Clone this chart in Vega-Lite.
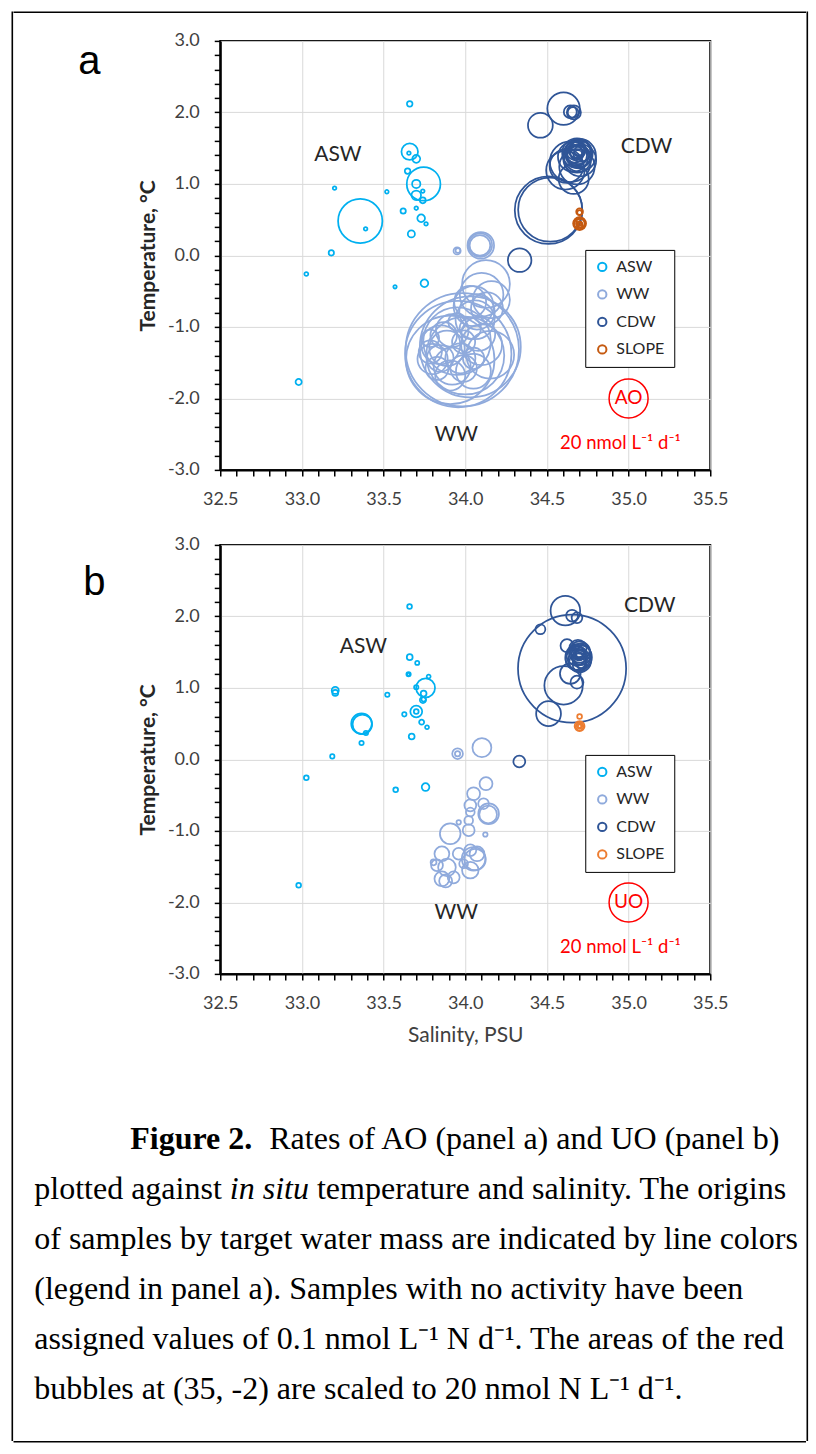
{
 "$schema": "https://vega.github.io/schema/vega-lite/v6.json",
 "background": "white",
 "padding": {"left": 11.25, "top": 11.25, "right": 2, "bottom": 2},
 "spacing": 0,
 "resolve": {"scale": {"color": "independent", "size": "independent"}, "legend": {"color": "independent", "size": "independent"}},
 "datasets": {
  "pa": [
   {"mass":"ASW","sal":33.66,"temp":2.12,"rate":0.4},
   {"mass":"ASW","sal":33.66,"temp":1.45,"rate":3.6},
   {"mass":"ASW","sal":33.655,"temp":1.43,"rate":0.17},
   {"mass":"ASW","sal":33.70,"temp":1.35,"rate":0.8},
   {"mass":"ASW","sal":33.647,"temp":1.18,"rate":0.4},
   {"mass":"ASW","sal":33.745,"temp":1.00,"rate":14.9},
   {"mass":"ASW","sal":33.70,"temp":1.00,"rate":0.9},
   {"mass":"ASW","sal":33.70,"temp":0.84,"rate":1.2},
   {"mass":"ASW","sal":33.74,"temp":0.90,"rate":0.17},
   {"mass":"ASW","sal":33.74,"temp":0.77,"rate":0.45},
   {"mass":"ASW","sal":33.70,"temp":0.66,"rate":0.17},
   {"mass":"ASW","sal":33.62,"temp":0.62,"rate":0.37},
   {"mass":"ASW","sal":33.73,"temp":0.52,"rate":0.77},
   {"mass":"ASW","sal":33.76,"temp":0.44,"rate":0.17},
   {"mass":"ASW","sal":33.67,"temp":0.30,"rate":0.66},
   {"mass":"ASW","sal":33.357,"temp":0.48,"rate":25.8},
   {"mass":"ASW","sal":33.39,"temp":0.37,"rate":0.17},
   {"mass":"ASW","sal":33.20,"temp":0.94,"rate":0.17},
   {"mass":"ASW","sal":33.52,"temp":0.89,"rate":0.17},
   {"mass":"ASW","sal":33.18,"temp":0.035,"rate":0.37},
   {"mass":"ASW","sal":33.027,"temp":-0.26,"rate":0.2},
   {"mass":"ASW","sal":33.75,"temp":-0.39,"rate":0.77},
   {"mass":"ASW","sal":33.57,"temp":-0.44,"rate":0.15},
   {"mass":"ASW","sal":32.98,"temp":-1.77,"rate":0.5},
   {"mass":"WW","sal":33.95,"temp":0.063,"rate":0.66},
   {"mass":"WW","sal":33.955,"temp":0.07,"rate":0.3},
   {"mass":"WW","sal":34.09,"temp":0.14,"rate":5.6},
   {"mass":"WW","sal":34.092,"temp":0.145,"rate":7.3},
   {"mass":"WW","sal":34.095,"temp":0.14,"rate":9.3},
   {"mass":"WW","sal":34.127,"temp":-0.40,"rate":30},
   {"mass":"WW","sal":34.10,"temp":-0.55,"rate":25},
   {"mass":"WW","sal":34.16,"temp":-0.62,"rate":18},
   {"mass":"WW","sal":34.051,"temp":-0.71,"rate":21},
   {"mass":"WW","sal":34.072,"temp":-0.79,"rate":16.5},
   {"mass":"WW","sal":34.133,"temp":-0.74,"rate":13.4},
   {"mass":"WW","sal":34.03,"temp":-0.65,"rate":13.4},
   {"mass":"WW","sal":34.06,"temp":-0.90,"rate":20},
   {"mass":"WW","sal":33.95,"temp":-0.93,"rate":4.1},
   {"mass":"WW","sal":34.031,"temp":-1.02,"rate":6},
   {"mass":"WW","sal":33.92,"temp":-1.05,"rate":14},
   {"mass":"WW","sal":34.08,"temp":-1.10,"rate":15},
   {"mass":"WW","sal":33.868,"temp":-1.12,"rate":9.3},
   {"mass":"WW","sal":33.786,"temp":-1.16,"rate":4.1},
   {"mass":"WW","sal":33.99,"temp":-1.21,"rate":7},
   {"mass":"WW","sal":33.85,"temp":-1.25,"rate":20},
   {"mass":"WW","sal":34.10,"temp":-1.25,"rate":22},
   {"mass":"WW","sal":33.888,"temp":-1.30,"rate":16.5},
   {"mass":"WW","sal":33.786,"temp":-1.35,"rate":7},
   {"mass":"WW","sal":34.153,"temp":-1.39,"rate":30},
   {"mass":"WW","sal":33.847,"temp":-1.44,"rate":9.3},
   {"mass":"WW","sal":33.80,"temp":-1.45,"rate":12},
   {"mass":"WW","sal":33.97,"temp":-1.44,"rate":11.9},
   {"mass":"WW","sal":34.051,"temp":-1.44,"rate":6},
   {"mass":"WW","sal":33.92,"temp":-1.55,"rate":18},
   {"mass":"WW","sal":33.99,"temp":-1.58,"rate":9.3},
   {"mass":"WW","sal":33.827,"temp":-1.58,"rate":7},
   {"mass":"WW","sal":34.05,"temp":-1.62,"rate":16},
   {"mass":"WW","sal":33.908,"temp":-1.68,"rate":11.9},
   {"mass":"WW","sal":33.95,"temp":-1.20,"rate":60},
   {"mass":"WW","sal":34.00,"temp":-1.40,"rate":80},
   {"mass":"WW","sal":33.982,"temp":-1.32,"rate":169},
   {"mass":"WW","sal":33.957,"temp":-1.38,"rate":149},
   {"mass":"WW","sal":34.031,"temp":-1.28,"rate":134},
   {"mass":"WW","sal":33.908,"temp":-1.46,"rate":103},
   {"mass":"CDW","sal":34.602,"temp":2.053,"rate":13.9},
   {"mass":"CDW","sal":34.46,"temp":1.82,"rate":8.1},
   {"mass":"CDW","sal":34.643,"temp":2.007,"rate":2.2},
   {"mass":"CDW","sal":34.66,"temp":2.0,"rate":1.5},
   {"mass":"CDW","sal":34.665,"temp":2.0,"rate":2.6},
   {"mass":"CDW","sal":34.684,"temp":1.43,"rate":11.5},
   {"mass":"CDW","sal":34.69,"temp":1.45,"rate":8},
   {"mass":"CDW","sal":34.68,"temp":1.40,"rate":6},
   {"mass":"CDW","sal":34.70,"temp":1.42,"rate":9},
   {"mass":"CDW","sal":34.675,"temp":1.47,"rate":5},
   {"mass":"CDW","sal":34.695,"temp":1.38,"rate":7},
   {"mass":"CDW","sal":34.67,"temp":1.42,"rate":4},
   {"mass":"CDW","sal":34.705,"temp":1.46,"rate":6},
   {"mass":"CDW","sal":34.685,"temp":1.35,"rate":10},
   {"mass":"CDW","sal":34.69,"temp":1.50,"rate":3},
   {"mass":"CDW","sal":34.68,"temp":1.44,"rate":2},
   {"mass":"CDW","sal":34.70,"temp":1.40,"rate":14},
   {"mass":"CDW","sal":34.66,"temp":1.38,"rate":12},
   {"mass":"CDW","sal":34.69,"temp":1.41,"rate":1},
   {"mass":"CDW","sal":34.70,"temp":1.45,"rate":1.5},
   {"mass":"CDW","sal":34.68,"temp":1.48,"rate":3.5},
   {"mass":"CDW","sal":34.643,"temp":1.31,"rate":21.9},
   {"mass":"CDW","sal":34.613,"temp":1.19,"rate":19.4},
   {"mass":"CDW","sal":34.684,"temp":1.24,"rate":16.5},
   {"mass":"CDW","sal":34.704,"temp":1.33,"rate":13.4},
   {"mass":"CDW","sal":34.664,"temp":1.07,"rate":11.9},
   {"mass":"CDW","sal":34.62,"temp":1.25,"rate":15},
   {"mass":"CDW","sal":34.51,"temp":0.632,"rate":60},
   {"mass":"CDW","sal":34.52,"temp":0.64,"rate":54},
   {"mass":"CDW","sal":34.333,"temp":-0.067,"rate":7.3},
   {"mass":"SLOPE","sal":34.70,"temp":0.445,"rate":2.2},
   {"mass":"SLOPE","sal":34.70,"temp":0.44,"rate":1.5},
   {"mass":"SLOPE","sal":34.705,"temp":0.45,"rate":1.0},
   {"mass":"SLOPE","sal":34.70,"temp":0.43,"rate":0.5},
   {"mass":"SLOPE","sal":34.70,"temp":0.445,"rate":0.25},
   {"mass":"SLOPE","sal":34.702,"temp":0.44,"rate":0.1},
   {"mass":"SLOPE","sal":34.70,"temp":0.45,"rate":1.8},
   {"mass":"SLOPE","sal":34.70,"temp":0.61,"rate":0.6},
   {"mass":"SLOPE","sal":34.70,"temp":0.60,"rate":0.3}
  ],
  "pb": [
   {"mass":"ASW","sal":33.659,"temp":2.14,"rate":0.3},
   {"mass":"ASW","sal":33.66,"temp":1.43,"rate":0.45},
   {"mass":"ASW","sal":33.706,"temp":1.35,"rate":0.22},
   {"mass":"ASW","sal":33.653,"temp":1.19,"rate":0.25},
   {"mass":"ASW","sal":33.653,"temp":1.19,"rate":0.1},
   {"mass":"ASW","sal":33.757,"temp":1.00,"rate":4.7},
   {"mass":"ASW","sal":33.70,"temp":1.01,"rate":0.25},
   {"mass":"ASW","sal":33.776,"temp":1.16,"rate":0.2},
   {"mass":"ASW","sal":33.745,"temp":0.92,"rate":0.45},
   {"mass":"ASW","sal":33.741,"temp":0.83,"rate":0.5},
   {"mass":"ASW","sal":33.745,"temp":0.84,"rate":0.25},
   {"mass":"ASW","sal":33.70,"temp":0.67,"rate":1.85},
   {"mass":"ASW","sal":33.70,"temp":0.67,"rate":0.3},
   {"mass":"ASW","sal":33.627,"temp":0.63,"rate":0.25},
   {"mass":"ASW","sal":33.733,"temp":0.52,"rate":0.33},
   {"mass":"ASW","sal":33.766,"temp":0.45,"rate":0.2},
   {"mass":"ASW","sal":33.672,"temp":0.32,"rate":0.45},
   {"mass":"ASW","sal":33.365,"temp":0.50,"rate":5.6},
   {"mass":"ASW","sal":33.37,"temp":0.49,"rate":5.0},
   {"mass":"ASW","sal":33.392,"temp":0.37,"rate":0.25},
   {"mass":"ASW","sal":33.365,"temp":0.23,"rate":0.25},
   {"mass":"ASW","sal":33.204,"temp":0.965,"rate":0.66},
   {"mass":"ASW","sal":33.204,"temp":0.93,"rate":0.45},
   {"mass":"ASW","sal":33.523,"temp":0.905,"rate":0.25},
   {"mass":"ASW","sal":33.186,"temp":0.042,"rate":0.25},
   {"mass":"ASW","sal":33.027,"temp":-0.256,"rate":0.3},
   {"mass":"ASW","sal":33.574,"temp":-0.424,"rate":0.3},
   {"mass":"ASW","sal":33.757,"temp":-0.387,"rate":0.77},
   {"mass":"ASW","sal":32.98,"temp":-1.76,"rate":0.3},
   {"mass":"WW","sal":33.953,"temp":0.08,"rate":1.5},
   {"mass":"WW","sal":33.953,"temp":0.08,"rate":0.37},
   {"mass":"WW","sal":34.102,"temp":0.164,"rate":4.7},
   {"mass":"WW","sal":34.127,"temp":-0.34,"rate":2.2},
   {"mass":"WW","sal":34.051,"temp":-0.48,"rate":2.2},
   {"mass":"WW","sal":34.112,"temp":-0.62,"rate":1.5},
   {"mass":"WW","sal":34.143,"temp":-0.76,"rate":5.6},
   {"mass":"WW","sal":34.14,"temp":-0.77,"rate":4.1},
   {"mass":"WW","sal":34.031,"temp":-0.643,"rate":1.85},
   {"mass":"WW","sal":34.031,"temp":-0.737,"rate":1.0},
   {"mass":"WW","sal":34.021,"temp":-0.853,"rate":1.0},
   {"mass":"WW","sal":33.96,"temp":-0.88,"rate":0.26},
   {"mass":"WW","sal":34.021,"temp":-0.99,"rate":1.85},
   {"mass":"WW","sal":33.908,"temp":-1.04,"rate":5.6},
   {"mass":"WW","sal":34.123,"temp":-1.05,"rate":0.26},
   {"mass":"WW","sal":34.031,"temp":-1.27,"rate":1.85},
   {"mass":"WW","sal":34.051,"temp":-1.39,"rate":7.3},
   {"mass":"WW","sal":34.06,"temp":-1.40,"rate":6.0},
   {"mass":"WW","sal":33.857,"temp":-1.32,"rate":2.9},
   {"mass":"WW","sal":33.827,"temp":-1.48,"rate":1.85},
   {"mass":"WW","sal":33.888,"temp":-1.51,"rate":4.1},
   {"mass":"WW","sal":33.857,"temp":-1.67,"rate":2.9},
   {"mass":"WW","sal":33.929,"temp":-1.65,"rate":1.85},
   {"mass":"WW","sal":33.88,"temp":-1.70,"rate":2.2},
   {"mass":"WW","sal":34.031,"temp":-1.55,"rate":3.6},
   {"mass":"WW","sal":34.072,"temp":-1.32,"rate":2.9},
   {"mass":"WW","sal":33.96,"temp":-1.32,"rate":1.85},
   {"mass":"WW","sal":33.806,"temp":-1.44,"rate":0.45},
   {"mass":"WW","sal":33.99,"temp":-1.46,"rate":1.0},
   {"mass":"CDW","sal":34.654,"temp":1.27,"rate":153.8},
   {"mass":"CDW","sal":34.613,"temp":2.08,"rate":11.5},
   {"mass":"CDW","sal":34.654,"temp":2.01,"rate":1.85},
   {"mass":"CDW","sal":34.684,"temp":1.98,"rate":1.5},
   {"mass":"CDW","sal":34.46,"temp":1.82,"rate":1.3},
   {"mass":"CDW","sal":34.623,"temp":1.59,"rate":2.2},
   {"mass":"CDW","sal":34.602,"temp":1.035,"rate":19.4},
   {"mass":"CDW","sal":34.643,"temp":1.20,"rate":5.6},
   {"mass":"CDW","sal":34.684,"temp":1.08,"rate":2.2},
   {"mass":"CDW","sal":34.51,"temp":0.64,"rate":8.1},
   {"mass":"CDW","sal":34.331,"temp":-0.03,"rate":1.85},
   {"mass":"CDW","sal":34.694,"temp":1.43,"rate":9.3},
   {"mass":"CDW","sal":34.70,"temp":1.50,"rate":6},
   {"mass":"CDW","sal":34.69,"temp":1.55,"rate":4},
   {"mass":"CDW","sal":34.70,"temp":1.38,"rate":7},
   {"mass":"CDW","sal":34.68,"temp":1.45,"rate":5},
   {"mass":"CDW","sal":34.71,"temp":1.46,"rate":5},
   {"mass":"CDW","sal":34.69,"temp":1.36,"rate":4},
   {"mass":"CDW","sal":34.70,"temp":1.42,"rate":3},
   {"mass":"CDW","sal":34.715,"temp":1.52,"rate":3},
   {"mass":"CDW","sal":34.685,"temp":1.50,"rate":2.5},
   {"mass":"CDW","sal":34.70,"temp":1.32,"rate":2.5},
   {"mass":"CDW","sal":34.68,"temp":1.40,"rate":6},
   {"mass":"CDW","sal":34.71,"temp":1.40,"rate":4},
   {"mass":"CDW","sal":34.695,"temp":1.46,"rate":1.5},
   {"mass":"CDW","sal":34.70,"temp":1.44,"rate":0.8},
   {"mass":"CDW","sal":34.705,"temp":1.48,"rate":2},
   {"mass":"SLOPE","sal":34.70,"temp":0.465,"rate":1.3},
   {"mass":"SLOPE","sal":34.70,"temp":0.46,"rate":0.8},
   {"mass":"SLOPE","sal":34.70,"temp":0.47,"rate":0.4},
   {"mass":"SLOPE","sal":34.70,"temp":0.465,"rate":0.15},
   {"mass":"SLOPE","sal":34.70,"temp":0.60,"rate":0.3}
  ],
  "refa": [{"sal":35,"temp":-2,"rate":20,"label":"AO"}],
  "refb": [{"sal":35,"temp":-2,"rate":20,"label":"UO"}],
  "unita": [{"sal":34.95,"temp":-2.63,"label":"20 nmol L⁻¹ d⁻¹"}],
  "unitb": [{"sal":34.95,"temp":-2.62,"label":"20 nmol L⁻¹ d⁻¹"}],
  "ta": [
   {"sal":33.22,"temp":1.41,"label":"ASW"},
   {"sal":35.11,"temp":1.52,"label":"CDW"},
   {"sal":33.945,"temp":-2.51,"label":"WW"}
  ],
  "tb": [
   {"sal":33.376,"temp":1.57,"label":"ASW"},
   {"sal":35.13,"temp":2.14,"label":"CDW"},
   {"sal":33.945,"temp":-2.15,"label":"WW"}
  ],
  "cap": [
   {"line":1,"part":"head","text":"Figure 2."},
   {"line":1,"part":"rest1","text":"Rates of AO (panel a) and UO (panel b)"},
   {"line":2,"part":"plain","text":"plotted against"},
   {"line":2,"part":"ital","text":"in situ"},
   {"line":2,"part":"post","text":"temperature and salinity. The origins"},
   {"line":3,"part":"plain","text":"of samples by target water mass are indicated by line colors"},
   {"line":4,"part":"plain","text":"(legend in panel a). Samples with no activity have been"},
   {"line":5,"part":"plain","text":"assigned values of 0.1 nmol L⁻¹ N d⁻¹. The areas of the red"},
   {"line":6,"part":"plain","text":"bubbles at (35, -2) are scaled to 20 nmol N L⁻¹ d⁻¹."}
  ]
 },
 "hconcat": [
  {
   "width": 0.1, "height": 1428,
   "view": {"stroke": "black", "strokeWidth": 1.5, "fill": null},
   "data": {"values": []},
   "mark": "point",
   "encoding": {}
  },
  {
   "spacing": 17.65,
   "resolve": {"scale": {"color": "independent", "size": "independent"}, "legend": {"color": "independent", "size": "independent"}},
   "vconcat": [
    {
     "width": 791, "height": 0.1,
     "view": {"stroke": "black", "strokeWidth": 1.5, "fill": null},
     "data": {"values": []},
     "mark": "point",
     "encoding": {}
    },
    {
     "spacing": 67.5,
     "resolve": {"scale": {"color": "independent", "size": "independent"}, "legend": {"color": "independent", "size": "independent"}},
     "vconcat": [
      {
       "spacing": 25,
       "resolve": {"scale": {"color": "independent", "size": "independent"}, "legend": {"color": "independent", "size": "independent"}},
       "vconcat": [
        {
         "spacing": 0,
         "resolve": {"scale": {"color": "independent", "size": "independent"}, "legend": {"color": "independent", "size": "independent"}},
         "hconcat": [
          {
           "width": 122, "height": 43,
           "view": {"stroke": null},
           "data": {"values": [{"label": "a"}]},
           "mark": {"type": "text", "font": "Liberation Sans", "fontSize": 40, "dx": 14, "color": "black"},
           "encoding": {"text": {"field": "label"}}
          },
          {
           "width": 490, "height": 429,
           "encoding": {
            "x": {"field": "sal", "type": "quantitative", "scale": {"domain": [32.5, 35.5], "nice": false, "zero": false},
                  "axis": {"title": null, "values": [32.5,32.6,32.7,32.8,32.9,33,33.1,33.2,33.3,33.4,33.5,33.6,33.7,33.8,33.9,34,34.1,34.2,34.3,34.4,34.5,34.6,34.7,34.8,34.9,35,35.1,35.2,35.3,35.4,35.5],
                   "labelExpr": "abs(datum.value*2 - round(datum.value*2)) < 0.001 ? format(datum.value, '.1f') : ''",
                   "gridOpacity": {"condition": {"test": "abs(datum.value*2 - round(datum.value*2)) < 0.001", "value": 1}, "value": 0}}},
            "y": {"field": "temp", "type": "quantitative", "scale": {"domain": [-3, 3], "nice": false, "zero": false},
                  "axis": {"title": "Temperature, °C", "titleFontWeight": "bold", "titlePadding": 9, "values": [-3,-2.8,-2.6,-2.4,-2.2,-2,-1.8,-1.6,-1.4,-1.2,-1,-0.8,-0.6,-0.4,-0.2,0,0.2,0.4,0.6,0.8,1,1.2,1.4,1.6,1.8,2,2.2,2.4,2.6,2.8,3],
                   "labelExpr": "abs(datum.value - round(datum.value)) < 0.001 ? replace(format(datum.value, '.1f'), '−', '-') : ''",
                   "gridOpacity": {"condition": {"test": "abs(datum.value - round(datum.value)) < 0.001", "value": 1}, "value": 0}}}
           },
           "layer": [
            {
             "data": {"name": "pa"},
             "mark": {"type": "point", "shape": "circle", "filled": false, "strokeWidth": 1.75, "opacity": 1},
             "encoding": {
              "color": {"field": "mass", "type": "nominal", "scale": {"domain": ["ASW","WW","CDW","SLOPE"], "range": ["#00b0f0","#8faadc","#2f5597","#c55a11"]},
                        "legend": {"title": null, "orient": "none", "legendX": 365, "legendY": 209}},
              "size": {"field": "rate", "type": "quantitative", "scale": {"type": "linear", "domain": [0, 20], "range": [0, 1520]}, "legend": null}
             }
            },
            {
             "data": {"name": "refa"},
             "mark": {"type": "point", "shape": "circle", "filled": false, "color": "#ff0000", "strokeWidth": 1.5, "opacity": 1},
             "encoding": {"size": {"field": "rate", "type": "quantitative", "legend": null}}
            },
            {
             "data": {"name": "refa"},
             "mark": {"type": "text", "font": "Lato", "fontSize": 19, "color": "#ff0000"},
             "encoding": {"text": {"field": "label"}}
            },
            {
             "data": {"name": "unita"},
             "mark": {"type": "text", "font": "Lato", "fontSize": 18.5, "color": "#ff0000"},
             "encoding": {"text": {"field": "label"}}
            },
            {
             "data": {"name": "ta"},
             "mark": {"type": "text", "font": "Lato", "fontSize": 21, "color": "#262626"},
             "encoding": {"text": {"field": "label"}}
            }
           ]
          }
         ]
        },
        {
         "spacing": 0,
         "resolve": {"scale": {"color": "independent", "size": "independent"}, "legend": {"color": "independent", "size": "independent"}},
         "hconcat": [
          {
           "width": 122, "height": 76,
           "view": {"stroke": null},
           "data": {"values": [{"label": "b"}]},
           "mark": {"type": "text", "font": "Liberation Sans", "fontSize": 40, "dx": 19, "color": "black"},
           "encoding": {"text": {"field": "label"}}
          },
          {
           "width": 490, "height": 429,
           "encoding": {
            "x": {"field": "sal", "type": "quantitative", "scale": {"domain": [32.5, 35.5], "nice": false, "zero": false},
                  "axis": {"title": "Salinity, PSU", "titleFontWeight": "normal", "titleColor": "#404040", "titlePadding": 12, "values": [32.5,32.6,32.7,32.8,32.9,33,33.1,33.2,33.3,33.4,33.5,33.6,33.7,33.8,33.9,34,34.1,34.2,34.3,34.4,34.5,34.6,34.7,34.8,34.9,35,35.1,35.2,35.3,35.4,35.5],
                   "labelExpr": "abs(datum.value*2 - round(datum.value*2)) < 0.001 ? format(datum.value, '.1f') : ''",
                   "gridOpacity": {"condition": {"test": "abs(datum.value*2 - round(datum.value*2)) < 0.001", "value": 1}, "value": 0}}},
            "y": {"field": "temp", "type": "quantitative", "scale": {"domain": [-3, 3], "nice": false, "zero": false},
                  "axis": {"title": "Temperature, °C", "titleFontWeight": "bold", "titlePadding": 9, "values": [-3,-2.8,-2.6,-2.4,-2.2,-2,-1.8,-1.6,-1.4,-1.2,-1,-0.8,-0.6,-0.4,-0.2,0,0.2,0.4,0.6,0.8,1,1.2,1.4,1.6,1.8,2,2.2,2.4,2.6,2.8,3],
                   "labelExpr": "abs(datum.value - round(datum.value)) < 0.001 ? replace(format(datum.value, '.1f'), '−', '-') : ''",
                   "gridOpacity": {"condition": {"test": "abs(datum.value - round(datum.value)) < 0.001", "value": 1}, "value": 0}}}
           },
           "layer": [
            {
             "data": {"name": "pb"},
             "mark": {"type": "point", "shape": "circle", "filled": false, "strokeWidth": 1.75, "opacity": 1},
             "encoding": {
              "color": {"field": "mass", "type": "nominal", "scale": {"domain": ["ASW","WW","CDW","SLOPE"], "range": ["#00b0f0","#8faadc","#2f5597","#ed7d31"]},
                        "legend": {"title": null, "orient": "none", "legendX": 365, "legendY": 210}},
              "size": {"field": "rate", "type": "quantitative", "scale": {"type": "linear", "domain": [0, 20], "range": [0, 1520]}, "legend": null}
             }
            },
            {
             "data": {"name": "refb"},
             "mark": {"type": "point", "shape": "circle", "filled": false, "color": "#ff0000", "strokeWidth": 1.5, "opacity": 1},
             "encoding": {"size": {"field": "rate", "type": "quantitative", "legend": null}}
            },
            {
             "data": {"name": "refb"},
             "mark": {"type": "text", "font": "Lato", "fontSize": 19, "color": "#ff0000"},
             "encoding": {"text": {"field": "label"}}
            },
            {
             "data": {"name": "unitb"},
             "mark": {"type": "text", "font": "Lato", "fontSize": 18.5, "color": "#ff0000"},
             "encoding": {"text": {"field": "label"}}
            },
            {
             "data": {"name": "tb"},
             "mark": {"type": "text", "font": "Lato", "fontSize": 21, "color": "#262626"},
             "encoding": {"text": {"field": "label"}}
            }
           ]
          }
         ]
        }
       ]
      },
      {
       "spacing": 26.25,
       "vconcat": [
        {
         "width": 40, "height": 300,
         "view": {"stroke": null},
         "data": {"name": "cap"},
         "encoding": {
          "y": {"field": "line", "type": "ordinal", "axis": null, "scale": {"domain": [1,2,3,4,5,6], "padding": 0.5}},
          "text": {"field": "text"}
         },
         "layer": [
          {"transform": [{"filter": "datum.part === 'plain'"}], "mark": {"type": "text", "align": "left", "font": "Liberation Serif", "fontSize": 32, "color": "black"}},
          {"transform": [{"filter": "datum.part === 'head'"}], "mark": {"type": "text", "align": "left", "font": "Liberation Serif", "fontSize": 32, "fontWeight": "bold", "dx": 96, "color": "black"}},
          {"transform": [{"filter": "datum.part === 'rest1'"}], "mark": {"type": "text", "align": "left", "font": "Liberation Serif", "fontSize": 32, "dx": 235, "color": "black"}},
          {"transform": [{"filter": "datum.part === 'ital'"}], "mark": {"type": "text", "align": "left", "font": "Liberation Serif", "fontSize": 32, "fontStyle": "italic", "dx": 195.6, "color": "black"}},
          {"transform": [{"filter": "datum.part === 'post'"}], "mark": {"type": "text", "align": "left", "font": "Liberation Serif", "fontSize": 32, "dx": 282.7, "color": "black"}}
         ]
        },
        {
         "width": 791, "height": 0.1,
         "view": {"stroke": "black", "strokeWidth": 1.5, "fill": null},
         "data": {"values": []},
         "mark": "point",
         "encoding": {}
        }
       ]
      }
     ]
    }
   ]
  },
  {
   "width": 0.1, "height": 1428,
   "view": {"stroke": "black", "strokeWidth": 1.5, "fill": null},
   "data": {"values": []},
   "mark": "point",
   "encoding": {}
  }
 ],
 "config": {
  "view": {"stroke": "black", "strokeWidth": 2},
  "text": {"font": "Lato"},
  "axis": {
   "labelFont": "Lato", "labelFontSize": 18, "labelColor": "#404040",
   "titleFont": "Lato", "titleFontSize": 21, "titleColor": "#262626",
   "gridColor": "#d9d9d9", "gridWidth": 1,
   "domainColor": "black", "domainWidth": 2,
   "tickColor": "black", "tickWidth": 1.5, "tickSize": 6,
   "labelPadding": 15, "labelOverlap": false, "labelFlush": false, "labelBound": false
  },
  "legend": {
   "symbolType": "circle", "symbolSize": 70, "symbolStrokeWidth": 2, "symbolFillColor": "transparent",
   "labelFont": "Lato", "labelFontSize": 16, "labelColor": "#262626", "labelOffset": 6,
   "strokeColor": "black", "fillColor": "white", "padding": 9, "rowPadding": 9.5, "cornerRadius": 0
  }
 }
}
